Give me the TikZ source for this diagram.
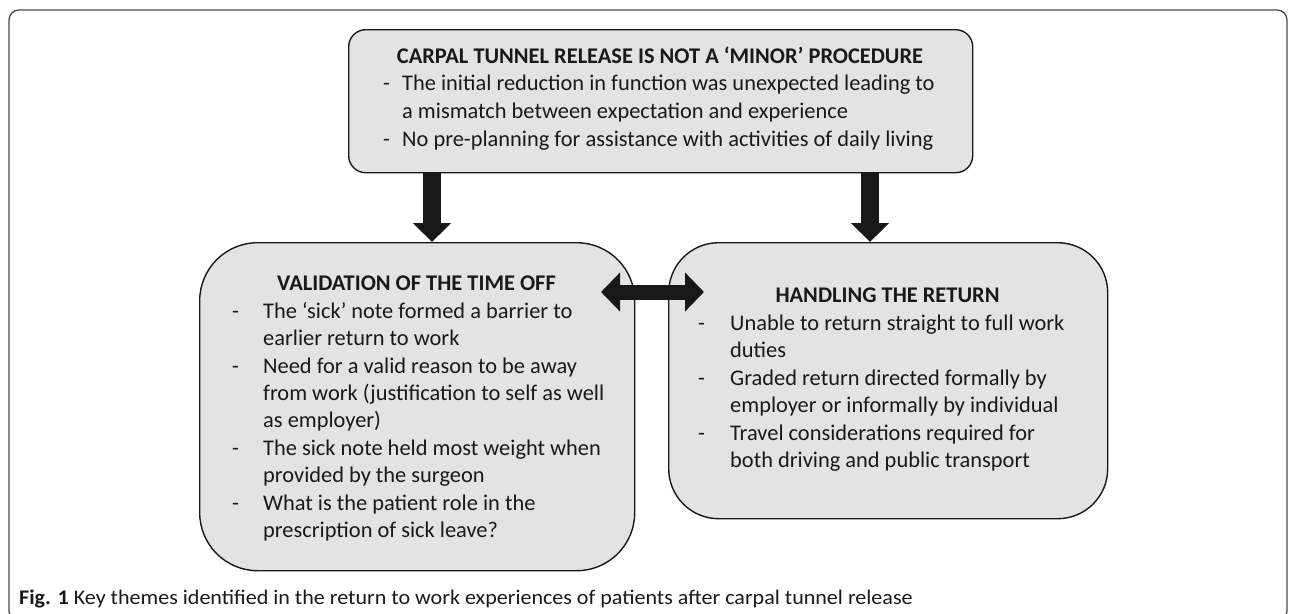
\documentclass[tikz,border=0pt]{standalone}
\usepackage{fontspec}
\setmainfont{Carlito}
\newfontfamily\capfont[FakeStretch=1.06]{Carlito}
\usetikzlibrary{arrows.meta}
\definecolor{boxfill}{RGB}{227,227,227}
\definecolor{arrowc}{RGB}{24,24,24}
\definecolor{framec}{RGB}{70,70,70}
\definecolor{textc}{RGB}{25,25,25}
\begin{document}
\begin{tikzpicture}[x=1pt,y=-1pt,
  box/.style={draw=black!90, line width=1.4pt, fill=boxfill, inner sep=0pt, anchor=north west},
  txt/.style={anchor=base west, inner sep=0pt, text=textc, font=\fontsize{22.4}{26}\selectfont},
  ttl/.style={anchor=base, inner sep=0pt, text=textc, font=\fontsize{22.4}{26}\selectfont\bfseries},
  bigarrow/.style={draw=arrowc, line width=18pt, -{Triangle[width=37pt,length=19pt]}},
  dblarrow/.style={draw=arrowc, line width=15pt, {Triangle[width=38pt,length=19pt]}-{Triangle[width=38pt,length=19pt]}},
  frame/.style={draw=framec, line width=1.3pt, rounded corners=10pt}
]
\useasboundingbox (0,0) rectangle (1290,613);
\clip (0,0) rectangle (1290,613);
\draw[frame] (9,10) rectangle (1287,621);

% boxes
\node[box, rounded corners=17pt, minimum width=624pt, minimum height=143pt] (top) at (348,29) {};
\node[box, rounded corners=58pt, minimum width=435pt, minimum height=328pt] (left) at (199,242) {};
\node[box, rounded corners=50pt, minimum width=439pt, minimum height=276pt] (right) at (668,242) {};

% top box text
\node[ttl] (t0) at (660,63) {CARPAL TUNNEL RELEASE IS NOT A ‘MINOR’ PROCEDURE};
\node[txt] (tb1) at (383,90) {-};
\node[txt] (t1) at (402,90) {The initial reduction in function was unexpected leading to};
\node[txt] (t2) at (402,118) {a mismatch between expectation and experience};
\node[txt] (tb2) at (383,146) {-};
\node[txt] (t3) at (402,146) {No pre-planning for assistance with activities of daily living};

% left box text
\node[ttl] (l0) at (416.5,290) {VALIDATION OF THE TIME OFF};
\node[txt] (lb1) at (232,318) {-};
\node[txt] (l1) at (263,318) {The ‘sick’ note formed a barrier to};
\node[txt] (l2) at (263,345) {earlier return to work};
\node[txt] (lb2) at (232,373) {-};
\node[txt] (l3) at (263,373) {Need for a valid reason to be away};
\node[txt] (l4) at (263,400) {from work (justification to self as well};
\node[txt] (l5) at (263,427) {as employer)};
\node[txt] (lb3) at (232,455) {-};
\node[txt] (l6) at (263,455) {The sick note held most weight when};
\node[txt] (l7) at (263,482) {provided by the surgeon};
\node[txt] (lb4) at (232,510) {-};
\node[txt] (l8) at (263,510) {What is the patient role in the};
\node[txt] (l9) at (263,537) {prescription of sick leave?};

% right box text
\node[ttl] (r0) at (887.5,302) {HANDLING THE RETURN};
\node[txt] (rb1) at (698,330) {-};
\node[txt] (r1) at (730,330) {Unable to return straight to full work};
\node[txt] (r2) at (730,357) {duties};
\node[txt] (rb2) at (698,385) {-};
\node[txt] (r3) at (730,385) {Graded return directed formally by};
\node[txt] (r4) at (730,412) {employer or informally by individual};
\node[txt] (rb3) at (698,440) {-};
\node[txt] (r5) at (730,440) {Travel considerations required for};
\node[txt] (r6) at (730,467) {both driving and public transport};

% arrows
\coordinate (a1) at (432,0);
\coordinate (a2) at (870,0);
\draw[bigarrow] (top.south -| a1) -- (left.north -| a1);
\draw[bigarrow] (top.south -| a2) -- (right.north -| a2);
\coordinate (dl) at (601,292);
\coordinate (dr) at (704,292);
\draw[dblarrow] (dl) -- (dr);

% caption
\node[anchor=base west, inner sep=0pt, text=textc, font=\capfont\fontsize{20.8}{24}\selectfont] (cap) at (19,604)
  {\textbf{Fig. 1} Key themes identified in the return to work experiences of patients after carpal tunnel release};
\end{tikzpicture}
\end{document}
